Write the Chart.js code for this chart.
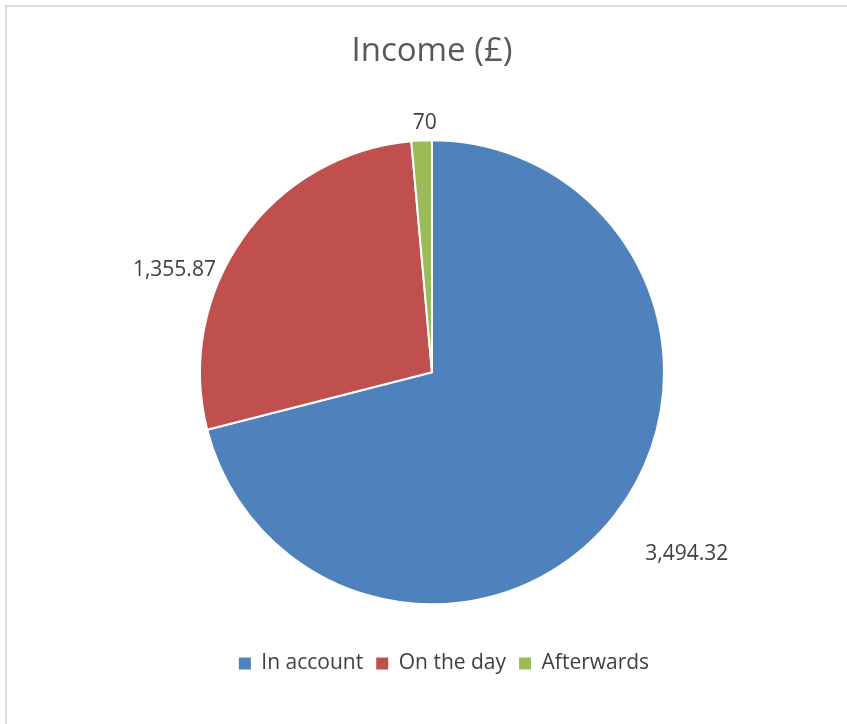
<!DOCTYPE html>
<html>
<head>
<meta charset="utf-8">
<script src="https://cdn.jsdelivr.net/npm/chart.js@4.4.1/dist/chart.umd.min.js"></script>
<style>
  html, body { margin: 0; padding: 0; background: #ffffff; overflow: hidden; }
  #frame { position: absolute; left: 5px; top: 5px; width: 900px; height: 800px; border: 2px solid #dcdcdc; box-sizing: border-box; }
  #wrap { position: absolute; left: 0; top: 0; width: 847px; height: 724px; }
</style>
</head>
<body>
<div id="frame"></div>
<div id="wrap"><canvas id="c" width="847" height="724"></canvas></div>
<script>
const categories = ['In account', 'On the day', 'Afterwards'];
const incomeValues = [3494.32, 1355.87, 70];
const sliceColors = ['#4F81BD', '#C0504D', '#9BBB59'];
const chartTitle = 'Income (£)';

// label placement tweaks (degrees added to mid-angle, pixels beyond outer radius)
const labelAngleShift = [-2.3, -13.7, 0.9];
const labelExtraDist = [81, 45, 17];

const outsideLabels = {
  id: 'outsideLabels',
  afterDatasetsDraw(chart) {
    const ctx = chart.ctx;
    const meta = chart.getDatasetMeta(0);
    ctx.save();
    ctx.font = '21px "Open Sans"';
    ctx.fillStyle = '#404040';
    ctx.textAlign = 'center';
    ctx.textBaseline = 'middle';
    meta.data.forEach((arc, i) => {
      const p = arc.getProps(['x', 'y', 'startAngle', 'endAngle', 'outerRadius'], true);
      const mid = (p.startAngle + p.endAngle) / 2 + labelAngleShift[i] * Math.PI / 180;
      const d = p.outerRadius + labelExtraDist[i];
      const v = chart.data.datasets[0].data[i];
      const txt = v.toLocaleString('en-GB', { maximumFractionDigits: 2 });
      ctx.fillText(txt, p.x + Math.cos(mid) * d, p.y + Math.sin(mid) * d);
    });
    ctx.restore();
  }
};

// nudge the legend block slightly right, as in the reference
const legendNudge = {
  id: 'legendNudge',
  afterLayout(chart) {
    if (chart.legend) { chart.legend.left += 12; chart.legend.right += 12; }
  }
};

new Chart(document.getElementById('c'), {
  type: 'pie',
  data: {
    labels: categories,
    datasets: [{
      data: incomeValues,
      backgroundColor: sliceColors,
      borderColor: '#ffffff',
      borderWidth: 2,
      radius: 232
    }]
  },
  options: {
    responsive: false,
    animation: false,
    events: [],
    layout: { padding: { left: 17, right: 0, top: 0, bottom: 40 } },
    plugins: {
      title: {
        display: true,
        text: chartTitle,
        color: '#595959',
        font: { family: '"Open Sans"', size: 33, weight: 'normal' },
        padding: { top: 32, bottom: 33 }
      },
      legend: {
        position: 'bottom',
        labels: {
          color: '#404040',
          font: { family: '"Open Sans"', size: 21 },
          boxWidth: 12,
          boxHeight: 12,
          padding: 13,
          generateLabels(chart) {
            const items = Chart.controllers.pie.overrides.plugins.legend.labels.generateLabels(chart);
            items.forEach(it => { it.lineWidth = 0; it.strokeStyle = 'rgba(0,0,0,0)'; });
            return items;
          }
        }
      },
      tooltip: { enabled: false }
    }
  },
  plugins: [outsideLabels, legendNudge]
});
</script>
</body>
</html>
